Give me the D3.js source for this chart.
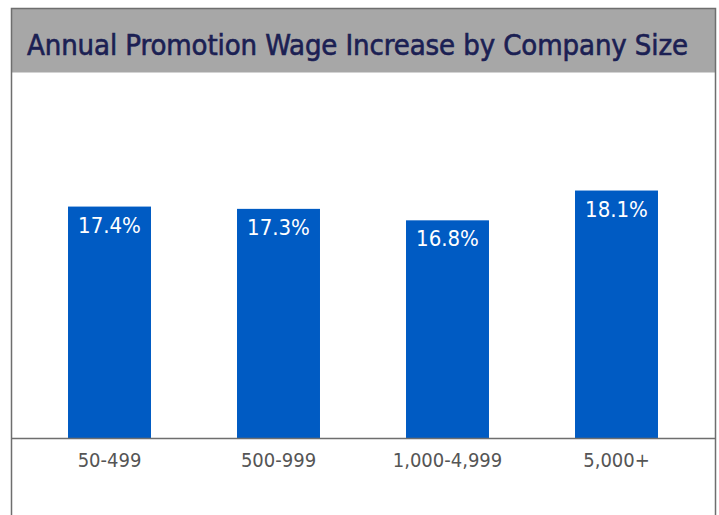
<!DOCTYPE html>
<html>
<head>
<meta charset="utf-8">
<script src="https://cdn.jsdelivr.net/npm/d3@7"></script>
<style>
  body { margin: 0; background: #fff; }
  svg { display: block; }
</style>
</head>
<body>
<div id="chart"></div>
<script>
var title = 'Annual Promotion Wage Increase by Company Size';
var categories = ['50-499', '500-999', '1,000-4,999', '5,000+'];
var values = [17.4, 17.3, 16.8, 18.1];

function barChart(parentId) {

    let width = 719;
    let height = 515;
    let font = '"DejaVu Sans Condensed", "Liberation Sans Narrow", sans-serif';

    let svg = d3.select('#' + parentId).append('svg')
        .attr('width', width)
        .attr('height', height);

    // frame + grey header
    svg.append('rect')
        .attr('x', 11.5).attr('y', 8.5)
        .attr('width', 704).attr('height', 64)
        .style('fill', '#a7a7a7');

    svg.append('path')
        .attr('d', 'M11.5,515 V8.5 H715.5 V515')
        .style('fill', 'none')
        .style('stroke', '#6e6e6e')
        .style('stroke-width', 1.5);

    // medium weight look: regular face with a thin stroke
    svg.append('text')
        .attr('x', 27)
        .attr('y', 55)
        .style('font-family', font)
        .style('font-size', '29px')
        .style('letter-spacing', '-0.1px')
        .style('fill', '#1b2053')
        .style('stroke', '#1b2053')
        .style('stroke-width', 0.6)
        .text(title);

    let xScale = d3.scaleBand()
        .domain(categories)
        .range([25, 701])
        .paddingInner(0.509)
        .paddingOuter(0.2545);

    let yScale = d3.scaleLinear()
        .domain([7.3, 20])
        .range([438, 147]);

    svg.append('g').selectAll('rect')
        .data(values)
        .enter().append('rect')
        .attr('x', function (d, i) { return xScale(categories[i]); })
        .attr('y', function (d) { return yScale(d); })
        .attr('width', xScale.bandwidth())
        .attr('height', function (d) { return yScale.range()[0] - yScale(d); })
        .style('fill', '#005bc3');

    svg.append('g').selectAll('text')
        .data(values)
        .enter().append('text')
        .attr('x', function (d, i) { return xScale(categories[i]) + xScale.bandwidth() / 2; })
        .attr('y', function (d) { return yScale(d) + 26; })
        .attr('text-anchor', 'middle')
        .style('font-family', font)
        .style('font-size', '22px')
        .style('fill', '#fff')
        .text(function (d) { return d.toFixed(1) + '%'; });

    let xAxis = d3.axisBottom(xScale).tickSize(0).tickPadding(14);

    let axisG = svg.append('g')
        .attr('transform', 'translate(0,438.5)')
        .call(xAxis);

    axisG.select('.domain').remove();
    axisG.append('line')
        .attr('x1', 11).attr('x2', 715)
        .style('stroke', '#6e6e6e')
        .style('stroke-width', 1.5);

    axisG.selectAll('text')
        .style('font-family', font)
        .style('font-size', '20px')
        .style('fill', '#555');
}

barChart('chart');
</script>
</body>
</html>
